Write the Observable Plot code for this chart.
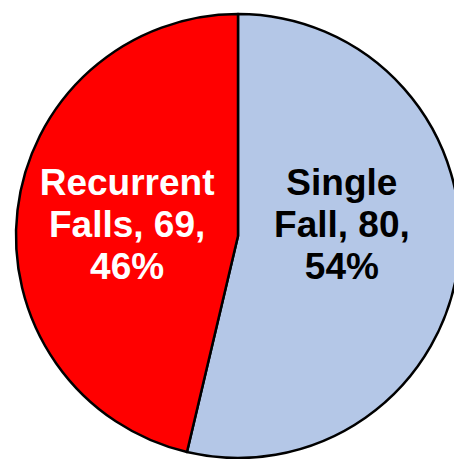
<!DOCTYPE html>
<html>
<head>
<meta charset="utf-8">
<script src="https://cdn.jsdelivr.net/npm/d3@7"></script>
<script src="https://cdn.jsdelivr.net/npm/@observablehq/plot@0.6"></script>
<style>
  html, body { margin: 0; padding: 0; background: #fff; overflow: hidden; }
  #chart { width: 454px; height: 459px; overflow: hidden; }
</style>
</head>
<body>
<div id="chart"></div>
<script>
const categories = ["Single Fall", "Recurrent Falls"];
const counts = [80, 69];
const percents = [54, 46];
const colors = ["#B4C7E7", "#FF0000"];
const textColors = ["#000000", "#FFFFFF"];

const data = categories.map((c, i) => ({
  category: c, count: counts[i], pct: percents[i],
  fill: colors[i], textFill: textColors[i]
}));

const pie = d3.pie().sort(null).value(d => d.count);
const arcs = pie(data);
const labelR = 0.487;
const labels = arcs.map(a => {
  const mid = (a.startAngle + a.endAngle) / 2;
  return {
    x: labelR * Math.sin(mid),
    y: 0,
    text: a.data.category.replace(" ", "\n") + ", " + a.data.count + ",\n" + a.data.pct + "%",
    textFill: a.data.textFill
  };
});

function pieMark(index, scales) {
  const cx = scales.x(0), cy = scales.y(0);
  const r = scales.x(1) - scales.x(0);
  const arc = d3.arc().innerRadius(0).outerRadius(r);
  const g = d3.create("svg:g").attr("transform", `translate(${cx},${cy})`);
  g.selectAll("path").data(arcs).join("path")
    .attr("d", arc)
    .attr("fill", d => d.data.fill)
    .attr("stroke", "#000")
    .attr("stroke-width", 2.5)
    .attr("stroke-linejoin", "round");
  return g.node();
}

const chart = Plot.plot({
  width: 454,
  height: 459,
  margin: 0,
  x: {domain: [-1, 1], range: [16, 460], axis: null},
  y: {domain: [-1, 1], range: [458, 14], axis: null},
  style: {background: "#fff", overflow: "visible"},
  marks: [
    pieMark,
    Plot.text(labels, {
      x: "x", y: "y", text: "text",
      fill: d => d.textFill,
      fontSize: 37,
      fontWeight: "bold",
      fontFamily: "Liberation Sans, Arial, sans-serif",
      lineAnchor: "middle",
      lineHeight: 1.14,
      dx: -4,
      dy: -13
    })
  ]
});
document.getElementById("chart").appendChild(chart);
</script>
</body>
</html>
